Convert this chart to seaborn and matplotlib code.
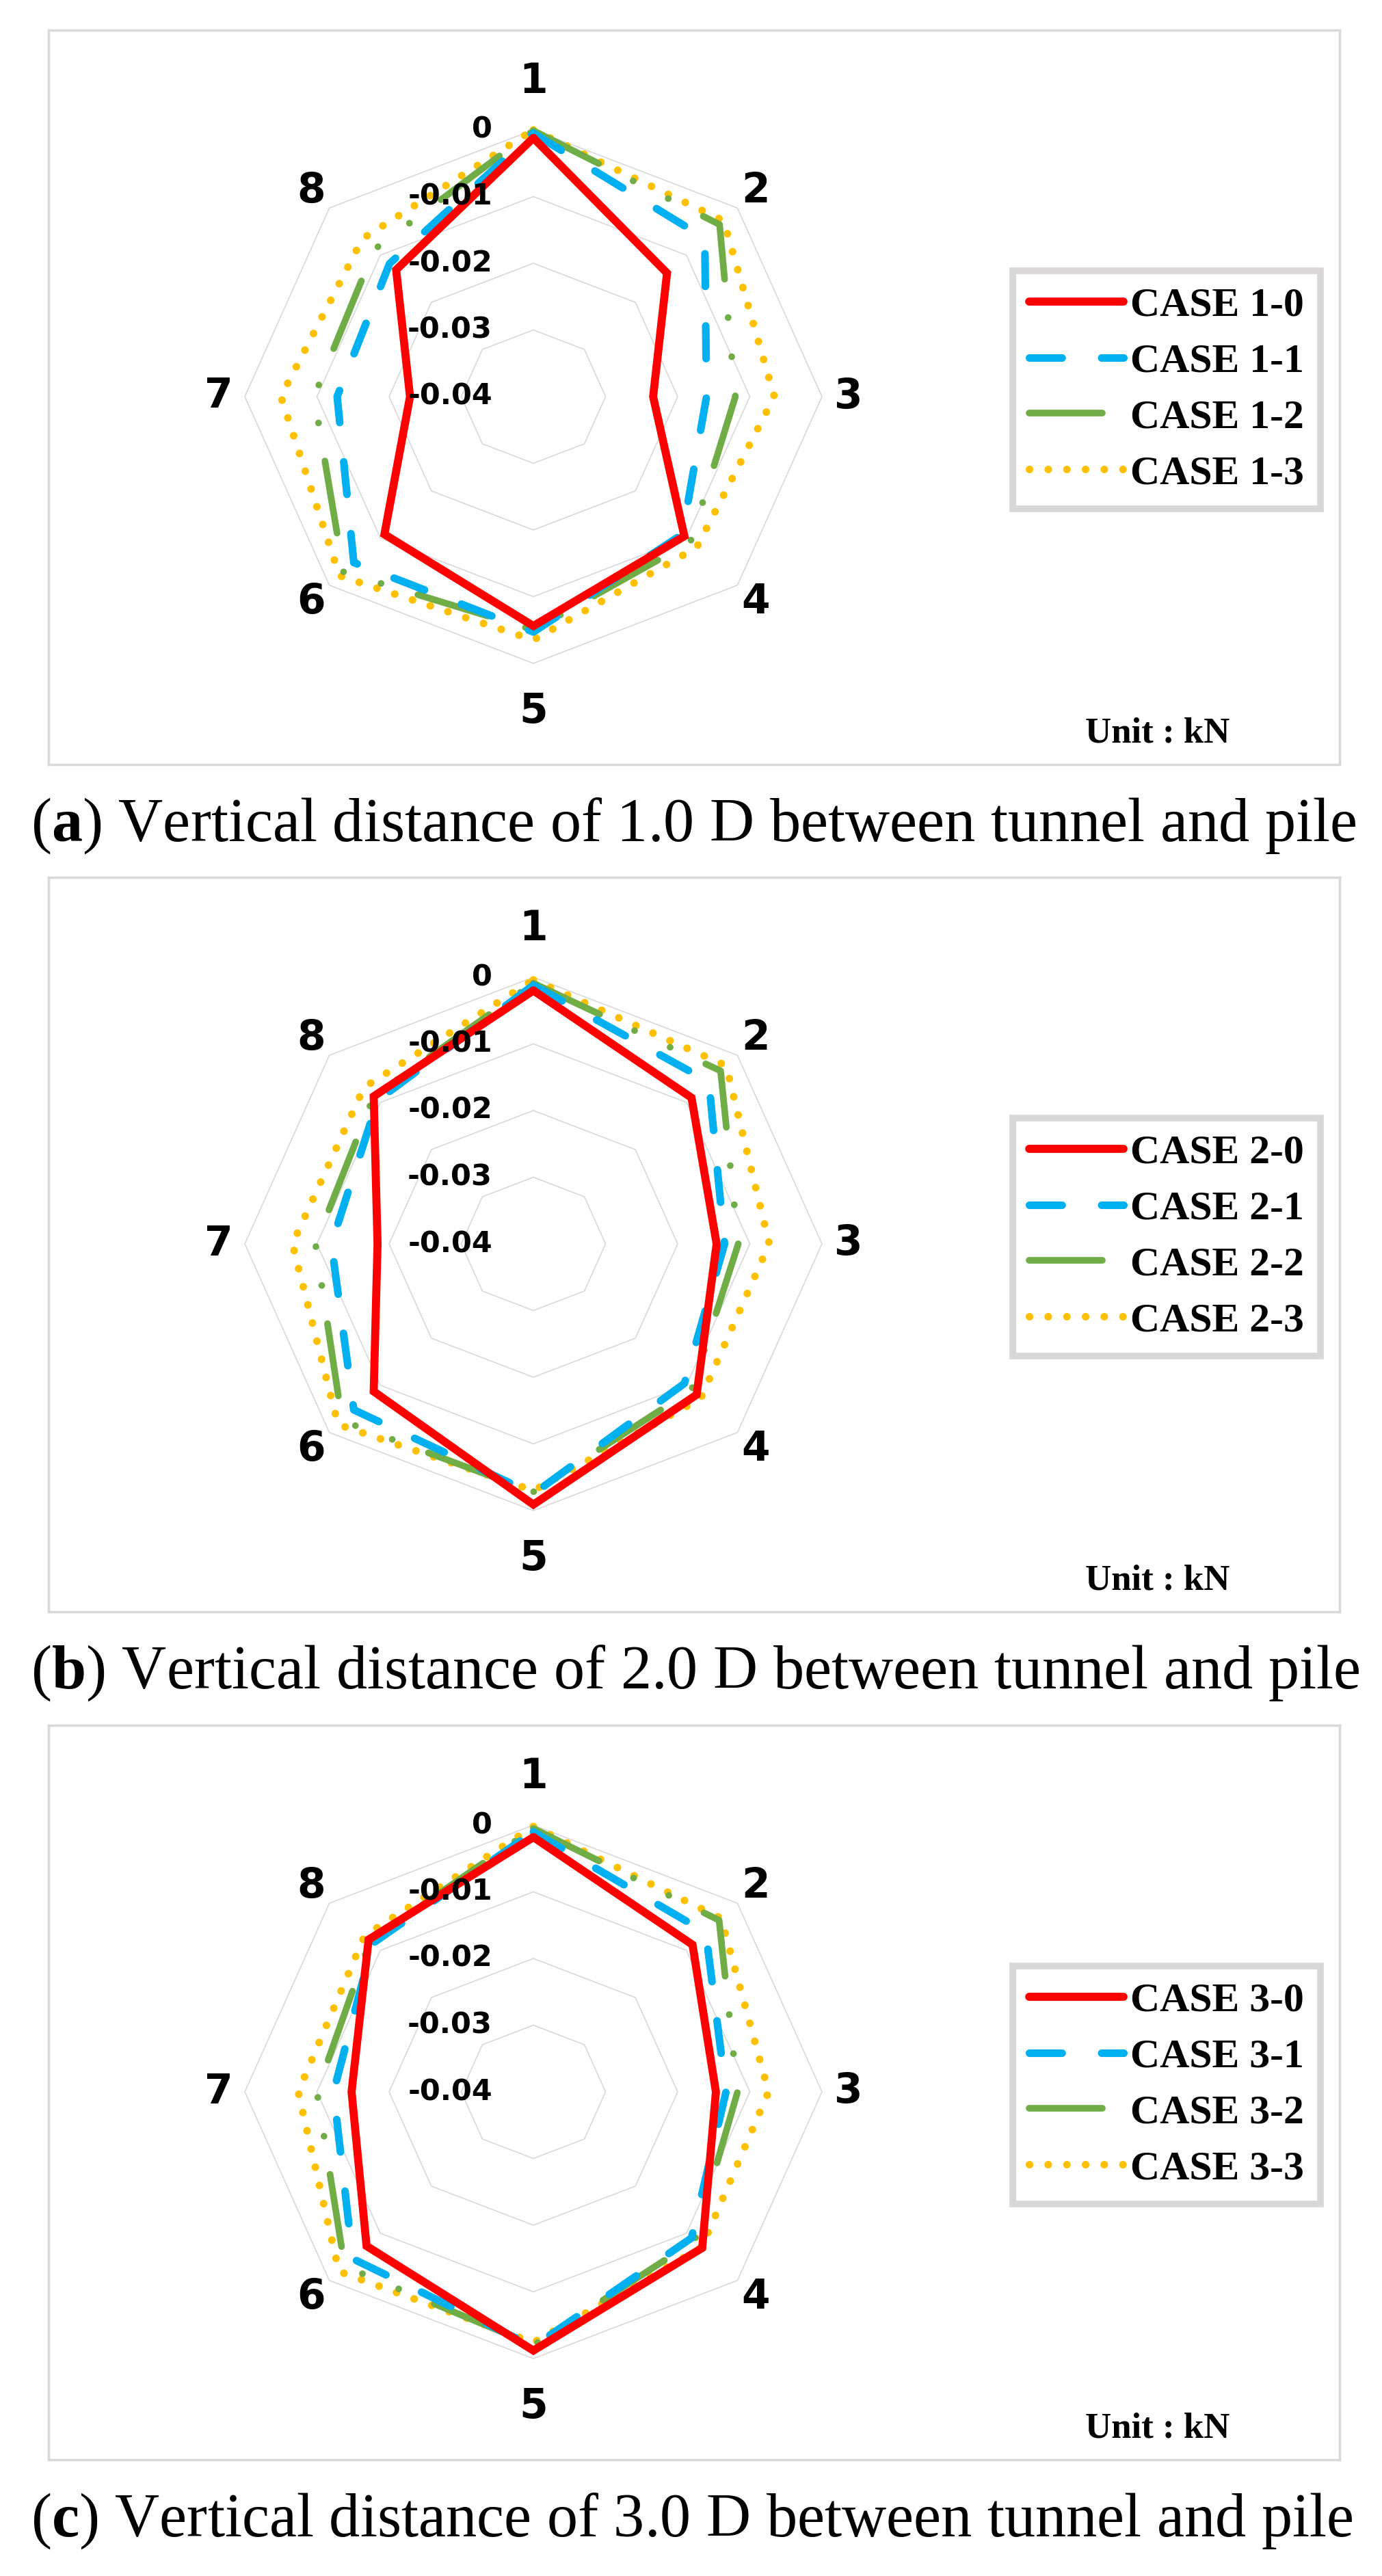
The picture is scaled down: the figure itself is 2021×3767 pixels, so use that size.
import numpy as np
import pandas as pd
import seaborn as sns
import matplotlib.pyplot as plt

# radar axes 1..8, clockwise from top
points = ['1', '2', '3', '4', '5', '6', '7', '8']
ring_values = [0, -0.01, -0.02, -0.03, -0.04]
ring_labels = ['0', '-0.01', '-0.02', '-0.03', '-0.04']
r_min, r_max = -0.04, 0.0

# (a) 1.0 D
case1_0 = [-0.0012, -0.0138, -0.0234, -0.0104, -0.0056, -0.0108, -0.0229, -0.0131]
case1_1 = [-0.0005, -0.0064, -0.0160, -0.0108, -0.0047, -0.0048, -0.0128, -0.0118]
case1_2 = [-0.0001, -0.0035, -0.0120, -0.0092, -0.0050, -0.0028, -0.0096, -0.0088]
case1_3 = [0.0000, -0.0027, -0.0066, -0.0080, -0.0035, -0.0020, -0.0050, -0.0065]

# (b) 2.0 D
case2_0 = [-0.0020, -0.0090, -0.0146, -0.0080, -0.0009, -0.0087, -0.0184, -0.0087]
case2_1 = [-0.0012, -0.0056, -0.0135, -0.0104, -0.0025, -0.0048, -0.0120, -0.0095]
case2_2 = [-0.0009, -0.0033, -0.0116, -0.0090, -0.0028, -0.0025, -0.0098, -0.0087]
case2_3 = [-0.0004, -0.0022, -0.0073, -0.0072, -0.0030, -0.0017, -0.0066, -0.0068]

# (c) 3.0 D
case3_0 = [-0.0018, -0.0088, -0.0147, -0.0069, -0.0012, -0.0073, -0.0148, -0.0077]
case3_1 = [-0.0010, -0.0062, -0.0133, -0.0090, -0.0018, -0.0046, -0.0123, -0.0085]
case3_2 = [-0.0005, -0.0036, -0.0117, -0.0084, -0.0020, -0.0030, -0.0100, -0.0080]
case3_3 = [-0.0002, -0.0032, -0.0074, -0.0070, -0.0024, -0.0019, -0.0074, -0.0069]

panels = [
    ('a', '1.0', [case1_0, case1_1, case1_2, case1_3]),
    ('b', '2.0', [case2_0, case2_1, case2_2, case2_3]),
    ('c', '3.0', [case3_0, case3_1, case3_2, case3_3]),
]

colors = ['#FF0000', '#00B0F0', '#70AD47', '#FFC000']
widths = [8.5, 8.0, 7.0, 8.0]
styles = ['-', (0, (4.3, 5.2)), (0, (11, 5.8, 0.01, 5.9, 0.01, 5.9)), (0, (0.01, 2.45))]

sns.set_style('white')
plt.rcParams['font.family'] = ['DejaVu Sans']
plt.rcParams['mathtext.fontset'] = 'custom'
plt.rcParams['mathtext.rm'] = 'Liberation Serif'
plt.rcParams['mathtext.bf'] = 'Liberation Serif:bold'

W, H = 2021, 3767
fig = plt.figure(figsize=(W / 100, H / 100), dpi=100)

angles = np.arange(8) * np.pi / 4


def to_xy(vals):
    f = (np.asarray(vals) - r_min) / (r_max - r_min)
    f = np.append(f, f[0])
    a = np.append(angles, angles[0])
    return f * np.sin(a), f * np.cos(a)


box_tops = [44, 1283, 2523]
box_h = 1074
box_left, box_w = 71, 1888
cx_off, cy_off = 709, 536      # radar centre inside box (px)
sx, sy = 422, 390              # px per unit radius

for (tag, dist, series), top in zip(panels, box_tops):
    ax = fig.add_axes([box_left / W, 1 - (top + box_h) / H, box_w / W, box_h / H])
    ax.set_xlim(-cx_off / sx, (box_w - cx_off) / sx)
    ax.set_ylim(-(box_h - cy_off) / sy, cy_off / sy)
    ax.set_xticks([])
    ax.set_yticks([])
    for sp in ax.spines.values():
        sp.set_color('#D9D9D9')
        sp.set_linewidth(2.5)

    # octagon gridlines
    for v in ring_values[:-1]:
        gx, gy = to_xy([v] * 8)
        ax.plot(gx, gy, color='#D9D9D9', lw=1.2, zorder=1)

    num = {'a': 1, 'b': 2, 'c': 3}[tag]
    for i, vals in enumerate(series):
        x, y = to_xy(vals)
        df = pd.DataFrame({'x': x, 'y': y})
        sns.lineplot(data=df, x='x', y='y', sort=False, estimator=None, ax=ax,
                     color=colors[i], lw=widths[i], label=f'CASE {num}-{i}', zorder=3 + (3 - i) * 0.1)
        ln = ax.lines[-1]
        ln.set_linestyle(styles[i])
        ln.set_dash_capstyle('round')
        ln.set_solid_capstyle('round')
        ln.set_solid_joinstyle('miter' if i == 0 else 'round')

    ax.set_xlabel('')
    ax.set_ylabel('')

    # ring value labels
    for v, lab in zip(ring_values, ring_labels):
        f = (v - r_min) / (r_max - r_min)
        ax.text(-60 / sx, f, lab, ha='right', va='center', fontsize=31,
                fontweight='bold', color='black', zorder=6)

    # category labels
    for k, lab in enumerate(points):
        rr = 1.18 if k in (0, 4) else 1.09
        ax.text(rr * np.sin(angles[k]), rr * np.cos(angles[k]), lab, ha='center', va='center',
                fontsize=43, fontweight='bold', color='black', zorder=6)

    leg = ax.legend(loc='upper left', bbox_to_anchor=(0.747, 0.672), borderaxespad=0,
                    prop={'family': 'Liberation Serif', 'weight': 'bold', 'size': 43},
                    handlelength=2.3, handletextpad=0.17, labelspacing=0.45,
                    borderpad=0.4, fancybox=False, frameon=True)
    fr = leg.get_frame()
    fr.set_edgecolor('#D0CECE')
    fr.set_linewidth(7)
    for t in leg.get_texts():
        t.set_color('black')

    ax.text(0.859, 0.042, 'Unit : kN', transform=ax.transAxes, ha='center', va='center',
            fontsize=38, fontweight='bold', family='Liberation Serif', color='black')

    fig.text(45 / W, 1 - (top + box_h + 90) / H,
             r'($\mathbf{' + tag + r'}$) Vertical distance of ' + dist + ' D between tunnel and pile',
             ha='left', va='center', fontsize=65, family='Liberation Serif', color='black')

fig.savefig('out.png', dpi=100, facecolor='white')
